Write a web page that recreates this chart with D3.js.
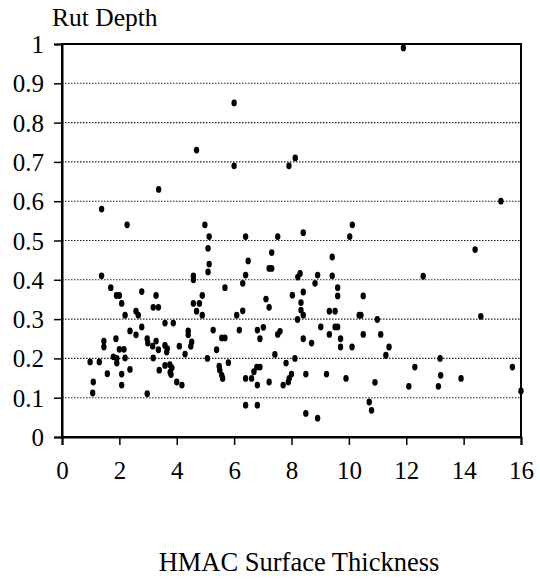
<!DOCTYPE html>
<html>
<head>
<meta charset="utf-8">
<script src="https://cdn.jsdelivr.net/npm/d3@7"></script>
<style>
  html, body { margin: 0; padding: 0; background: #fff; }
  svg { display: block; }
  svg text { font-family: "Times New Roman", "Liberation Serif", Tinos, "DejaVu Serif", serif !important; fill: #000; }
</style>
</head>
<body>
<script>
const xTicks = [0, 2, 4, 6, 8, 10, 12, 14, 16];
const yTicks = [0, 0.1, 0.2, 0.3, 0.4, 0.5, 0.6, 0.7, 0.8, 0.9, 1];
const xTitle = "HMAC Surface Thickness";
const yTitle = "Rut Depth";

const points = [
  [4.69,0.73],[3.37,0.63],[1.38,0.58],[2.27,0.54],[4.98,0.54],[5.13,0.51],
  [6.0,0.85],[6.0,0.69],[7.91,0.69],[8.13,0.71],[6.4,0.51],[7.52,0.51],[8.41,0.52],[10.12,0.54],[10.03,0.51],
  [11.9,0.99],[15.3,0.60],
  [5.09,0.48],[5.13,0.44],[5.09,0.42],[1.38,0.41],[4.58,0.41],[4.58,0.40],[1.70,0.38],[2.78,0.37],[1.90,0.36],[2.0,0.36],[3.28,0.36],[4.89,0.36],[2.08,0.34],[3.18,0.33],[3.36,0.33],[4.58,0.34],[4.79,0.34],[4.69,0.32],[4.89,0.31],[2.20,0.31],[2.58,0.32],[2.66,0.31],[3.59,0.29],[3.88,0.29],[2.37,0.27],[2.78,0.28],[2.58,0.26],[4.40,0.27],[4.40,0.26],[2.97,0.25],[1.88,0.25],[1.46,0.244],[1.46,0.229],[3.28,0.244],[2.99,0.239],[3.16,0.231],[3.36,0.222],[3.59,0.233],[3.67,0.225],[3.65,0.216],[4.09,0.231],[4.52,0.242],[4.49,0.231],[2.0,0.223],[2.16,0.223],[1.79,0.204],[1.91,0.200],[1.91,0.188],[2.20,0.201],[0.98,0.191],[1.30,0.191],[3.18,0.201],[4.29,0.211],[5.07,0.200],[2.37,0.172],[1.58,0.161],[2.08,0.160],[3.39,0.170],[3.59,0.182],[3.76,0.184],[3.83,0.176],[3.77,0.165],[3.80,0.159],[4.0,0.140],[4.18,0.132],[1.09,0.140],[2.08,0.132],[1.07,0.112],[2.97,0.110],
  [6.49,0.448],[7.31,0.469],[7.22,0.429],[7.31,0.429],[6.40,0.412],[6.30,0.391],[5.68,0.380],[7.11,0.351],[7.22,0.330],[6.30,0.321],[6.09,0.310],[8.30,0.416],[8.22,0.407],[8.91,0.412],[9.42,0.458],[9.42,0.410],[8.82,0.391],[8.41,0.369],[8.03,0.361],[9.61,0.380],[9.61,0.359],[8.33,0.342],[8.33,0.323],[8.41,0.310],[8.21,0.299],[9.32,0.320],[9.52,0.320],[10.36,0.310],[5.27,0.272],[6.18,0.272],[5.57,0.252],[5.68,0.252],[6.81,0.272],[7.02,0.279],[6.90,0.250],[7.52,0.261],[7.60,0.269],[5.39,0.222],[8.41,0.250],[8.70,0.239],[9.02,0.280],[9.32,0.261],[9.52,0.280],[9.61,0.280],[9.71,0.250],[9.71,0.229],[10.11,0.229],[5.80,0.189],[5.48,0.180],[5.50,0.170],[5.57,0.157],[5.60,0.149],[6.40,0.149],[6.61,0.149],[6.69,0.166],[6.79,0.178],[6.90,0.178],[6.81,0.132],[7.22,0.140],[7.42,0.210],[7.81,0.188],[8.12,0.200],[8.0,0.160],[7.92,0.149],[7.89,0.140],[7.71,0.132],[8.50,0.160],[9.22,0.160],[9.90,0.149],[6.40,0.081],[6.81,0.081],[8.50,0.060],[8.91,0.048],
  [14.40,0.477],[12.59,0.409],[10.50,0.359],[10.42,0.310],[10.99,0.299],[14.60,0.307],[10.50,0.261],[11.11,0.261],[11.40,0.229],[11.29,0.208],[13.18,0.200],[12.30,0.178],[15.70,0.178],[13.20,0.157],[13.91,0.149],[10.91,0.139],[12.09,0.129],[13.12,0.129],[16.0,0.117],[10.71,0.089],[10.79,0.068]
];
const thickness = points.map(p => p[0]);
const rutDepth = points.map(p => p[1]);

const W = 540, H = 581;
const margin = { left: 62, right: 19, top: 44, bottom: 144 };
const iw = W - margin.left - margin.right;
const ih = H - margin.top - margin.bottom;
const FONT = '"Times New Roman", "Liberation Serif", Tinos, "DejaVu Serif", serif';

const svg = d3.select("body").append("svg").attr("width", W).attr("height", H);
const g = svg.append("g").attr("transform", `translate(${margin.left},${margin.top})`);

const x = d3.scaleLinear().domain([0, 16]).range([0, iw]);
const y = d3.scaleLinear().domain([0, 1]).range([ih, 0]);

// gridlines
g.append("g").selectAll("line")
  .data(yTicks.filter(v => v > 0 && v < 1))
  .join("line")
  .attr("x1", 0).attr("x2", iw)
  .attr("y1", d => y(d)).attr("y2", d => y(d))
  .attr("stroke", "#222").attr("stroke-width", 1.1)
  .attr("stroke-dasharray", "1.5,1.5");

// border (top & right)
g.append("rect").attr("x", 0).attr("y", 0).attr("width", iw).attr("height", ih)
  .attr("fill", "none").attr("stroke", "#000").attr("stroke-width", 2);

// axes
const yAxis = d3.axisLeft(y).tickValues(yTicks).tickSize(8).tickPadding(10)
  .tickFormat(d3.format("~g"));
const gy = g.append("g").call(yAxis).attr("font-family", FONT);
gy.select(".domain").attr("stroke-width", 2);
gy.selectAll(".tick line").attr("stroke-width", 1.5);
gy.selectAll("text").attr("font-size", 25).attr("dy", "0.34em");

const xAxis = d3.axisBottom(x).tickValues(xTicks).tickSize(8).tickPadding(16)
  .tickFormat(d3.format("d"));
const gx = g.append("g").attr("transform", `translate(0,${ih})`).call(xAxis).attr("font-family", FONT);
gx.select(".domain").attr("stroke-width", 2);
gx.selectAll(".tick line").attr("stroke-width", 1.5);
gx.selectAll("text").attr("font-size", 25);

// points
g.append("g").selectAll("ellipse")
  .data(thickness.map((t, i) => ({ t, r: rutDepth[i] })))
  .join("ellipse")
  .attr("cx", d => x(d.t)).attr("cy", d => y(d.r))
  .attr("rx", 2.7).attr("ry", 3.4)
  .attr("fill", "#000");

// titles
svg.append("text").attr("x", 52).attr("y", 26).attr("font-family", FONT)
  .attr("font-size", 25.5).text(yTitle);
svg.append("text").attr("x", 299).attr("y", 571).attr("text-anchor", "middle").attr("font-family", FONT)
  .attr("font-size", 26.5).text(xTitle);
</script>
</body>
</html>
